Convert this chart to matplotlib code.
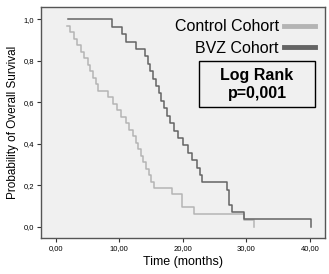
import matplotlib.pyplot as plt
import matplotlib.ticker as ticker
from matplotlib.lines import Line2D
from matplotlib.patches import Rectangle
import numpy as np

# -- data -------------------------------------------------------------------
control_n = 32
control_events = [1.7, 2.3, 2.8, 3.3, 3.9, 4.4, 5.0, 5.4, 5.9, 6.3, 6.7,
                  8.3, 9.0, 9.6, 10.3, 11.0, 11.6, 12.1, 12.6, 13.0, 13.4,
                  13.8, 14.2, 14.6, 15.0, 15.4, 18.3, 19.8, 19.8, 21.8,
                  29.6, 31.2]

bvz_n = 28
bvz_start = 1.85
bvz_events = [8.8, 10.4, 11.0, 12.6, 14.1, 14.5, 14.9, 15.3, 15.8, 16.3,
              16.6, 17.0, 17.5, 18.0, 18.6, 19.3, 20.0, 20.8, 21.5, 22.3,
              22.7, 23.1, 26.9, 27.2, 27.3, 27.7, 29.6, 40.2]

x_ticks = [0, 10, 20, 30, 40]
y_ticks = [0, 0.2, 0.4, 0.6, 0.8, 1.0]

c_control = "#b4b4b4"
c_bvz = "#646464"


def km_steps(events, n):
    t = np.array(events, dtype=float)
    s = (n - np.arange(1, len(t) + 1)) / n
    return t, s


plt.rcParams["font.family"] = ["Liberation Sans", "DejaVu Sans"]

fig = plt.figure(figsize=(3.29, 2.74), dpi=100)
ax = fig.add_axes([0.124, 0.131, 0.864, 0.843])
ax.set_facecolor("#f0f0f0")

tc, sc = km_steps(control_events, control_n)
ax.step(tc, sc, where="post", color=c_control, lw=1.1)

tb, sb = km_steps(bvz_events, bvz_n)
ax.step(np.r_[bvz_start, tb], np.r_[1.0, sb], where="post", color=c_bvz, lw=1.1)

ax.set_xlim(-2.36, 42.4)
ax.set_ylim(-0.054, 1.059)
ax.set_xticks(x_ticks)
ax.set_yticks(y_ticks)
ax.xaxis.set_major_formatter(ticker.FuncFormatter(lambda v, _: f"{v:.2f}".replace(".", ",")))
ax.yaxis.set_major_formatter(ticker.FuncFormatter(lambda v, _: f"{v:.1f}".replace(".", ",")))
ax.tick_params(labelsize=5.5, length=3, width=0.8, color="#333333", pad=2)

for s in ax.spines.values():
    s.set_color("#555555")
    s.set_linewidth(1.0)

ax.set_xlabel("Time (months)", fontsize=9, labelpad=3)
ax.set_ylabel("Probability of Overall Survival", fontsize=8.5, labelpad=3)

handles = [Line2D([], [], color=c_control, lw=3.5),
           Line2D([], [], color=c_bvz, lw=3.5)]
ax.legend(handles, ["Control Cohort", "BVZ Cohort"], loc="upper right",
          bbox_to_anchor=(1.0, 0.988), frameon=False, markerfirst=False,
          fontsize=11.5, handlelength=2.0, handletextpad=0.3,
          labelspacing=0.4, borderpad=0.1, borderaxespad=0.5)

ax.add_patch(Rectangle((0.557, 0.567), 0.408, 0.199, transform=ax.transAxes,
                       fill=False, edgecolor="black", lw=1.0))
ax.text(0.761, 0.667, "Log Rank\np=0,001", transform=ax.transAxes,
        ha="center", va="center", fontsize=11.5, fontweight="bold",
        linespacing=1.25)

fig.savefig("out.png", dpi=100)
